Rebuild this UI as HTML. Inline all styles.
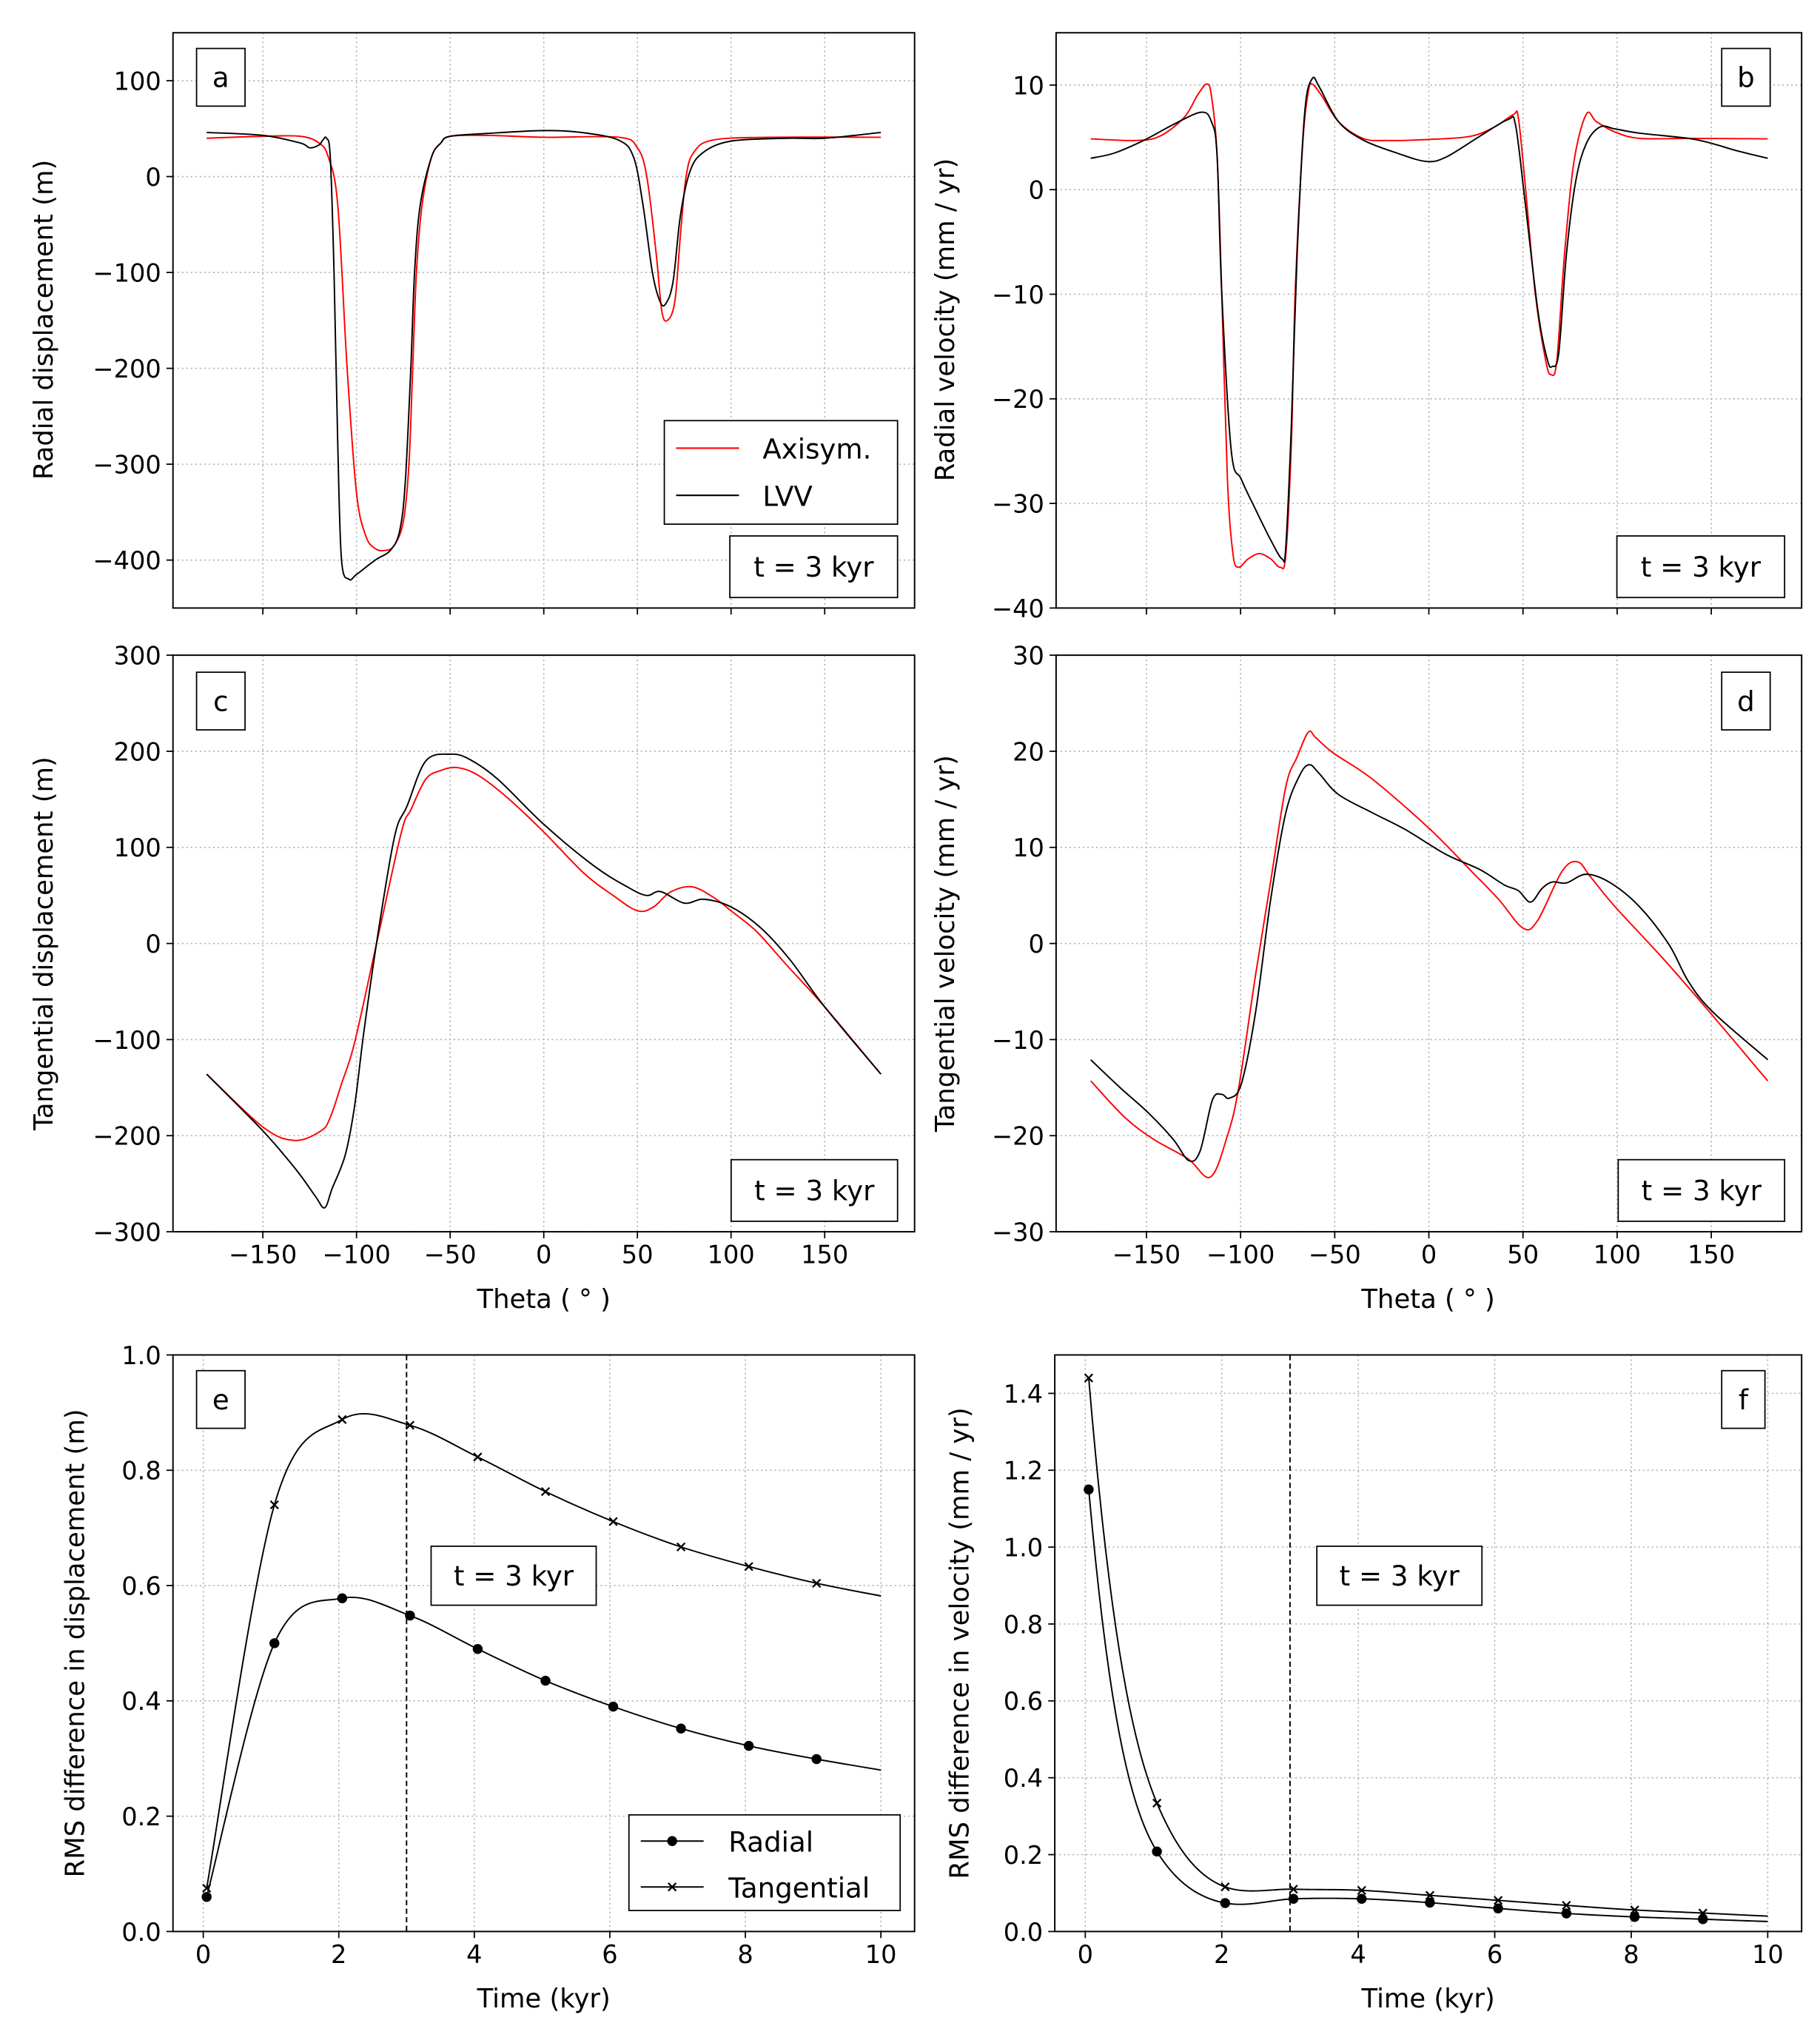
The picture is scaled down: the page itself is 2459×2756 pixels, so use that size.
<!DOCTYPE html>
<html><head><meta charset="utf-8"><title>Axisym vs LVV comparison</title>
<style>
html,body{margin:0;padding:0;background:#fff;}
svg{display:block;}
text{font-family:"DejaVu Sans","Liberation Sans",sans-serif;fill:#000;}
</style></head>
<body>
<svg id="fig" xmlns="http://www.w3.org/2000/svg" width="2459" height="2756" viewBox="0 0 1389 1556.8"></svg>
<script>
// ---------- DATA ----------
const aRedTheta=[-180,-150,-130,-120,-115,-110,-105,-100,-95,-90,-85,-80,-75,-72,-70,-68,-65,-60,-55,-50,-30,0,40,50,55,60,63,66,70,73,76,80,90,120,180];
const aRedVal=[40,42,42,35,20,-30,-200,-330,-375,-388,-390,-385,-360,-300,-200,-100,-30,20,35,42,43,41,41,30,0,-80,-140,-150,-130,-60,0,25,38,41,41];
const aBlkTheta=[-180,-150,-130,-125,-120,-118,-116,-114,-112,-110,-108,-104,-100,-90,-82,-77,-74,-71,-69,-66,-60,-55,-50,-30,0,20,40,48,53,58,62,65,69,73,78,85,100,130,150,180];
const aBlkVal=[46,43,35,30,33,38,40,20,-100,-280,-400,-420,-415,-400,-390,-370,-320,-200,-100,-30,20,35,42,45,48,46,38,20,-30,-100,-130,-133,-110,-40,5,25,37,40,40,46];
const bRedTheta=[-179.6,-156,-143,-130,-123,-118,-115.5,-112.5,-110,-107,-104,-101,-96,-90,-84,-79,-76,-73,-71,-67,-64,-62,-57,-48,-35,-22,0,22,35,45,47.5,51,56.5,62,65,68,72,77,83.6,89,99,112,138,180];
const bRedVal=[4.86,4.7,5.1,6.9,9,10.1,9,3.3,-9.9,-27.7,-34.9,-36.1,-35.3,-34.8,-35.3,-36.1,-34.9,-24,-9.9,4.4,9.4,10.1,9,6.5,4.9,4.7,4.8,5.1,6,7.2,6.9,0.8,-9.9,-16.3,-17.7,-16.3,-6.3,2.6,7.2,6.5,5.5,4.9,4.9,4.86];
const bBlkTheta=[-179.6,-167,-151,-136,-121,-115.5,-112.5,-110,-105,-99.6,-92,-84,-78,-76,-73,-70,-66,-62,-58,-48,-35,-17,-1.5,9,27,42,46,51,58,63,65.5,69,73,78,83.6,91,99,112,138,150.7,164,180];
const bBlkVal=[3.0,3.5,4.75,6.2,7.4,6.5,3.3,-9.9,-24.9,-27.7,-30.6,-33.5,-35.3,-34.2,-22.4,-6.3,7.25,10.6,9.75,6.5,4.75,3.5,2.7,3.1,5.1,6.7,6.2,-1,-11.7,-16.3,-16.9,-15.6,-6.3,0.8,4.4,6,5.8,5.4,4.9,4.4,3.7,3.0];
const cRedTheta=[-180,-150,-133,-119,-114,-108,-101,-88.5,-76,-71,-63,-55,-46,-35,-19,0,21.5,37,50,58.6,67.6,79,90.6,100,113.6,129,150,180];
const cRedVal=[-136,-191,-205,-195,-181,-146,-103,7,116,139,171,180,183,175,151,116,73,50,34,38,53.5,59,48,34,12.5,-21,-66,-136];
const cBlkTheta=[-180,-150,-132,-122,-117,-113,-106,-101,-96,-88.5,-79.6,-73,-63,-50,-40,-24.6,0,26.6,44.5,54.8,62.4,75,85.5,100,116,131.5,150,180];
const cBlkVal=[-136,-195,-236,-263,-275,-255,-220,-169,-91,10.5,112,143,190,197,192,171,124,81,59,50,54,42,46,38,16,-17,-66,-136];
const dRedTheta=[-179.6,-161.5,-146,-128,-116,-107,-101,-92,-84,-76,-70,-64,-60,-50.6,-30,0,21.7,37,50,57.8,70.7,79,86,99,125,150.7,180];
const dRedVal=[-14.3,-18.1,-20.4,-22.4,-24.3,-20,-15,-3.2,6.5,16.3,19.4,22,21.4,19.8,17.1,12,7.7,4.6,1.6,2.4,7.5,8.5,6.9,3.8,-1.7,-7.5,-14.3];
const dBlkTheta=[-179.6,-164,-148.6,-135.7,-127.5,-121.5,-115,-110,-106,-99.6,-92,-84,-76,-68.6,-63.5,-58.3,-48,-30,-12,8.8,27,40,47.5,54,60,65.5,73,83.6,96.5,112,127.5,138,150.7,180];
const dBlkVal=[-12.1,-15,-17.7,-20.4,-22.6,-21.6,-16.3,-15.7,-16.1,-14.6,-7.1,4.6,13.6,17.5,18.6,17.7,15.5,13.6,11.8,9.3,7.7,6.1,5.5,4.3,5.7,6.4,6.3,7.2,6.3,3.8,-0.1,-4,-7.1,-12.1];
const times=[0.05,1.05,2.05,3.05,4.05,5.05,6.05,7.05,8.05,9.05];
const eRadial=[0.06,0.50,0.578,0.548,0.49,0.435,0.39,0.352,0.322,0.299];
const eTangential=[0.075,0.74,0.888,0.878,0.823,0.763,0.711,0.667,0.633,0.604];
const eEndRadial=0.28, eEndTangential=0.582;
const fRadial=[1.15,0.208,0.074,0.085,0.085,0.075,0.06,0.047,0.038,0.032];
const fTangential=[1.44,0.334,0.116,0.11,0.107,0.094,0.081,0.068,0.056,0.048];
const fEndRadial=0.026, fEndTangential=0.04;
const thetaTicks=[-150,-100,-50,0,50,100,150];
const aTicks=[100,0,-100,-200,-300,-400];
const bTicks=[10,0,-10,-20,-30,-40];
const cTicks=[300,200,100,0,-100,-200,-300];
const dTicks=[30,20,10,0,-10,-20,-30];
const eTicks=[0,0.2,0.4,0.6,0.8,1.0];
const fTicks=[0,0.2,0.4,0.6,0.8,1.0,1.2,1.4];
const timeTicks=[0,2,4,6,8,10];

// ---------- DRAWING ----------
const NS='http://www.w3.org/2000/svg';
const svg=document.getElementById('fig');
function mk(tag,attrs,parent){const e=document.createElementNS(NS,tag);for(const k in attrs)e.setAttribute(k,attrs[k]);(parent||svg).appendChild(e);return e;}
function fmtNum(v){return (v<0?'\u2212':'')+Math.abs(v);}
function smooth(pts){
  let d='M'+pts[0][0].toFixed(2)+','+pts[0][1].toFixed(2);
  for(let i=0;i<pts.length-1;i++){
    const p0=pts[Math.max(0,i-1)],p1=pts[i],p2=pts[i+1],p3=pts[Math.min(pts.length-1,i+2)];
    const c1=[p1[0]+(p2[0]-p0[0])/6,p1[1]+(p2[1]-p0[1])/6];
    const c2=[p2[0]-(p3[0]-p1[0])/6,p2[1]-(p3[1]-p1[1])/6];
    d+=' C'+c1[0].toFixed(2)+','+c1[1].toFixed(2)+' '+c2[0].toFixed(2)+','+c2[1].toFixed(2)+' '+p2[0].toFixed(2)+','+p2[1].toFixed(2);
  }
  return d;
}
// Catmull-Rom in log space, sampled (for decaying curves)
function logSmooth(ax,xs,ys){
  const ly=ys.map(v=>Math.log(v));
  let d='';
  for(let i=0;i<xs.length-1;i++){
    const i0=Math.max(0,i-1),i3=Math.min(xs.length-1,i+2);
    const m1=(ly[i+1]-ly[i0])/(xs[i+1]-xs[i0]), m2=(ly[i3]-ly[i])/(xs[i3]-xs[i]);
    const h=xs[i+1]-xs[i];
    for(let k=0;k<=20;k++){
      const t=k/20,t2=t*t,t3=t2*t;
      const v=(2*t3-3*t2+1)*ly[i]+(t3-2*t2+t)*h*m1+(-2*t3+3*t2)*ly[i+1]+(t3-t2)*h*m2;
      const x=xs[i]+t*h;
      d+=(d?' L':'M')+ax.sx(x).toFixed(2)+','+ax.sy(Math.exp(v)).toFixed(2);
    }
  }
  return d;
}
function makeAxes(name,L,R,T,B,xmin,xmax,ymin,ymax){
  const g=mk('g',{});
  
  
  const sx=v=>L+(v-xmin)/(xmax-xmin)*(R-L);
  const sy=v=>B-(v-ymin)/(ymax-ymin)*(B-T);
  return {g,sx,sy,L,R,T,B};
}
function grid(ax,xt,yt,showXLabels,yLabelFmt){
  const gg=mk('g',{},ax.g);
  
  
  xt.forEach(v=>{const x=ax.sx(v);mk('line',{x1:x,x2:x,y1:ax.T,y2:ax.B,stroke:'#b0b0b0','stroke-width':0.9,'stroke-dasharray':'1.2,2.2'},gg);});
  yt.forEach(v=>{const y=ax.sy(v);mk('line',{x1:ax.L,x2:ax.R,y1:y,y2:y,stroke:'#b0b0b0','stroke-width':0.9,'stroke-dasharray':'1.2,2.2'},gg);});
  const tg=mk('g',{},ax.g);
  
  
  xt.forEach(v=>{const x=ax.sx(v);mk('line',{x1:x,x2:x,y1:ax.B,y2:ax.B+5,stroke:'#000','stroke-width':1},tg);
    if(showXLabels){const t=mk('text',{x:x,y:ax.B+24,'text-anchor':'middle','font-size':19},tg);t.textContent=fmtNum(v);}});
  yt.forEach(v=>{const y=ax.sy(v);mk('line',{x1:ax.L-5,x2:ax.L,y1:y,y2:y,stroke:'#000','stroke-width':1},tg);
    const t=mk('text',{x:ax.L-9,y:y+7,'text-anchor':'end','font-size':19},tg);t.textContent=yLabelFmt?yLabelFmt(v):fmtNum(v);});
}
function frame(ax){mk('rect',{x:ax.L,y:ax.T,width:ax.R-ax.L,height:ax.B-ax.T,fill:'none',stroke:'#000','stroke-width':1.1},ax.g);}
function curve(ax,xs,ys,color,name,useLog){
  let d;
  if(useLog){d=logSmooth(ax,xs,ys);}
  else{d=smooth(xs.map((x,i)=>[ax.sx(x),ax.sy(ys[i])]));}
  const p=mk('path',{d:d,fill:'none',stroke:color,'stroke-width':1.1,'stroke-linejoin':'round'},ax.g);
  
  
  return p;
}
function boxText(ax,x,y,w,h,str,name,fs){
  const g=mk('g',{},ax.g);
  
  
  mk('rect',{x:x,y:y,width:w,height:h,fill:'#fff',stroke:'#000','stroke-width':1},g);
  const t=mk('text',{x:x+w/2,y:y+h/2+7.5,'text-anchor':'middle','font-size':fs||21},g);t.textContent=str;
}
function ylabel(x,y,str,name){
  const t=mk('text',{x:0,y:0,transform:'translate('+x+','+y+') rotate(-90)','text-anchor':'middle','font-size':20});
  t.textContent=str;
  
  
}
function xlabel(x,y,str,name){
  const t=mk('text',{x:x,y:y,'text-anchor':'middle','font-size':20});
  t.textContent=str;
  
  
}
const TH=198;
const A=makeAxes('panel-a',132,698,25,464,-TH,TH,-450,150);
grid(A,thetaTicks,aTicks,false);
curve(A,aRedTheta,aRedVal,'#ff0000','axisym-radial-displacement');
curve(A,aBlkTheta,aBlkVal,'#000','lvv-radial-displacement');
boxText(A,150,37,37,44,'a','panel-label-a');
{const g=mk('g',{},A.g);
 mk('rect',{x:507,y:321,width:178,height:79,fill:'#fff',stroke:'#000','stroke-width':1},g);
 mk('line',{x1:516,x2:564,y1:342,y2:342,stroke:'#ff0000','stroke-width':1.2},g);
 let t=mk('text',{x:582,y:350,'font-size':21},g);t.textContent='Axisym.';
 mk('line',{x1:516,x2:564,y1:378,y2:378,stroke:'#000','stroke-width':1.2},g);
 t=mk('text',{x:582,y:386,'font-size':21},g);t.textContent='LVV';}
boxText(A,557,409,128,47,'t = 3 kyr','time-label-a');
frame(A);
ylabel(40,244,'Radial displacement (m)','y-axis-title-a');
const Bp=makeAxes('panel-b',806,1375,25,464,-TH,TH,-40,15);
grid(Bp,thetaTicks,bTicks,false);
curve(Bp,bRedTheta,bRedVal,'#ff0000','axisym-radial-velocity');
curve(Bp,bBlkTheta,bBlkVal,'#000','lvv-radial-velocity');
boxText(Bp,1314,37,37,44,'b','panel-label-b');
boxText(Bp,1234,409,128,47,'t = 3 kyr','time-label-b');
frame(Bp);
ylabel(728,244,'Radial velocity (mm / yr)','y-axis-title-b');
const C=makeAxes('panel-c',132,698,500,940,-TH,TH,-300,300);
grid(C,thetaTicks,cTicks,true);
curve(C,cRedTheta,cRedVal,'#ff0000','axisym-tangential-displacement');
curve(C,cBlkTheta,cBlkVal,'#000','lvv-tangential-displacement');
boxText(C,150,513,37,44,'c','panel-label-c');
boxText(C,558,885,127,47,'t = 3 kyr','time-label-c');
frame(C);
ylabel(40,720,'Tangential displacement (m)','y-axis-title-c');
xlabel(415,998,'Theta ( \u00b0 )','x-axis-title-c');
const D=makeAxes('panel-d',806,1375,500,940,-TH,TH,-30,30);
grid(D,thetaTicks,dTicks,true);
curve(D,dRedTheta,dRedVal,'#ff0000','axisym-tangential-velocity');
curve(D,dBlkTheta,dBlkVal,'#000','lvv-tangential-velocity');
boxText(D,1314,513,37,44,'d','panel-label-d');
boxText(D,1235,885,127,47,'t = 3 kyr','time-label-d');
frame(D);
ylabel(728,720,'Tangential velocity (mm / yr)','y-axis-title-d');
xlabel(1090,998,'Theta ( \u00b0 )','x-axis-title-d');
const TX0=-0.447,TX1=10.497;
function markers(ax,xs,ys,kind,name){
  const g=mk('g',{},ax.g);
  
  
  xs.forEach((x,i)=>{const px=ax.sx(x),py=ax.sy(ys[i]);
    if(kind==='o'){mk('circle',{cx:px,cy:py,r:3.8,fill:'#000'},g);}
    else{mk('path',{d:'M'+(px-3)+','+(py-3)+'L'+(px+3)+','+(py+3)+'M'+(px-3)+','+(py+3)+'L'+(px+3)+','+(py-3),stroke:'#000','stroke-width':1.3,fill:'none'},g);}
  });
}
function timePanel(name,L,R,yt,ymax,rad,tan,endR,endT,label,lblx,ylab,ylx,legend,useLog){
  const ax=makeAxes(name,L,R,1034,1474,TX0,TX1,0,ymax);
  grid(ax,timeTicks,yt,true,v=>v.toFixed(1));
  const vx=ax.sx(3);
  const vl=mk('line',{x1:vx,x2:vx,y1:ax.T,y2:ax.B,stroke:'#000','stroke-width':1.1,'stroke-dasharray':'4,2.5'},ax.g);
  
  
  curve(ax,times.concat([10]),rad.concat([endR]),'#000',name+'-radial-line',useLog);
  curve(ax,times.concat([10]),tan.concat([endT]),'#000',name+'-tangential-line',useLog);
  markers(ax,times,rad,'o',name+'-radial-markers');
  markers(ax,times,tan,'x',name+'-tangential-markers');
  boxText(ax,lblx,1180,126,45,'t = 3 kyr','time-label-'+label);
  if(legend){const g=mk('g',{},ax.g);
    mk('rect',{x:480,y:1385,width:207,height:73,fill:'#fff',stroke:'#000','stroke-width':1},g);
    mk('line',{x1:489,x2:537,y1:1405,y2:1405,stroke:'#000','stroke-width':1.1},g);
    mk('circle',{cx:513,cy:1405,r:3.8,fill:'#000'},g);
    let t=mk('text',{x:556,y:1413,'font-size':21},g);t.textContent='Radial';
    mk('line',{x1:489,x2:537,y1:1440,y2:1440,stroke:'#000','stroke-width':1.1},g);
    mk('path',{d:'M510,1437L516,1443M510,1443L516,1437',stroke:'#000','stroke-width':1.3},g);
    t=mk('text',{x:556,y:1448,'font-size':21},g);t.textContent='Tangential';}
  frame(ax);
  ylabel(ylx,1254,ylab,'y-axis-title-'+label);
  xlabel((ax.L+ax.R)/2,1532,'Time (kyr)','x-axis-title-'+label);
  return ax;
}
const E=timePanel('panel-e',132,698,eTicks,1.0,eRadial,eTangential,eEndRadial,eEndTangential,'e',329,'RMS difference in displacement (m)',64,true,false);
boxText(E,150,1046,37,44,'e','panel-label-e');
const F=timePanel('panel-f',805,1375,fTicks,1.5,fRadial,fTangential,fEndRadial,fEndTangential,'f',1005,'RMS difference in velocity (mm / yr)',739,false,true);
boxText(F,1314,1046,33,44,'f','panel-label-f');
</script>
</body></html>
